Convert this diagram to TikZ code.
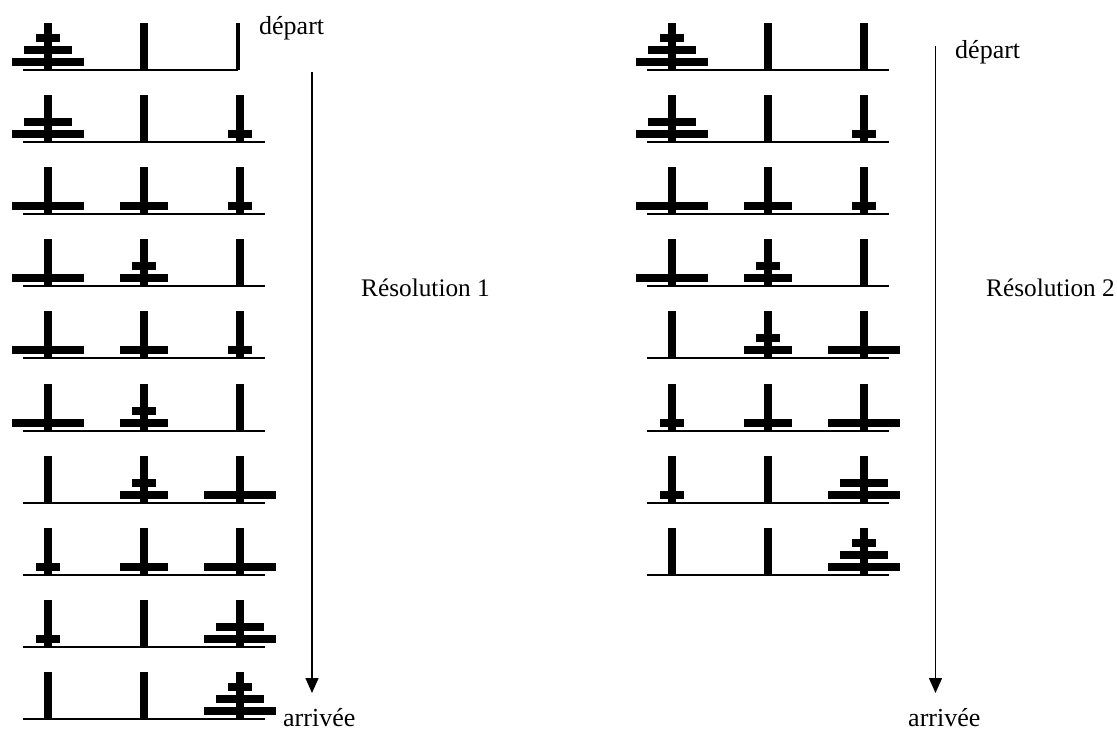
\documentclass[tikz,border=0pt]{standalone}
\usepackage{fontspec}
\setmainfont{Liberation Serif}
\usetikzlibrary{arrows.meta}

\tikzset{
  groundline/.style={line width=2pt},
  pegbar/.style={fill=black},
  diskbar/.style={fill=black},
  flow/.style={line width=1.5pt, -{Triangle[width=13pt,length=15pt]}},
  tag/.style={inner sep=0pt, anchor=base west, font=\fontsize{26}{30}\selectfont},
  title/.style={tag, font=\fontsize{25.3}{30}\selectfont},
}

% disks on one peg: list of size/level (size 1..3, level 1 = bottom)
\newcommand\hanoitower[3]{%
  \foreach \s/\l in {#3}{%
    \fill[diskbar] ({#1-12*\s},{#2-4-12*(\l-1)}) rectangle ({#1+12*\s},{#2-12-12*(\l-1)});}}

% one state of the puzzle: #1 x of the first peg, #2 y of the ground, #3-#5 disks on each peg
\newcommand\hanoirow[5]{%
  \draw[groundline] ({#1-25},#2) -- ({#1+217},#2);
  \foreach \k in {0,1,2}{\fill[pegbar] ({#1+96*\k-4},#2) rectangle ({#1+96*\k+4},{#2-47});}
  \def\tmpa{#3}\ifx\tmpa\empty\else\hanoitower{#1}{#2}{#3}\fi
  \def\tmpb{#4}\ifx\tmpb\empty\else\hanoitower{#1+96}{#2}{#4}\fi
  \def\tmpc{#5}\ifx\tmpc\empty\else\hanoitower{#1+192}{#2}{#5}\fi
}

\begin{document}
\begin{tikzpicture}[x=1pt,y=-1pt]
\useasboundingbox (0,0) rectangle (1117,731);

% ---- first solution ----
% starting state: the ground stops at the third peg, drawn thin
\draw[groundline] (23,70) -- (238,70);
\fill[pegbar] (44,70) rectangle (52,23);
\fill[pegbar] (140,70) rectangle (148,23);
\fill[pegbar] (236,70) rectangle (240,23);
\hanoitower{48}{70}{3/1,2/2,1/3}
\hanoirow{48}{142.1}{3/1,2/2}{}{1/1}
\hanoirow{48}{214.2}{3/1}{2/1}{1/1}
\hanoirow{48}{286.3}{3/1}{2/1,1/2}{}
\hanoirow{48}{358.4}{3/1}{2/1}{1/1}
\hanoirow{48}{430.5}{3/1}{2/1,1/2}{}
\hanoirow{48}{502.6}{}{2/1,1/2}{3/1}
\hanoirow{48}{574.7}{1/1}{2/1}{3/1}
\hanoirow{48}{646.8}{1/1}{}{3/1,2/2}
\hanoirow{48}{718.9}{}{}{3/1,2/2,1/3}

\coordinate (s1) at (312,72);
\coordinate (e1) at (312,693);
\draw[flow] (s1) -- (e1);

\node[tag] (dep1) at (259,34) {départ};
\node[title] (res1) at (361,296.5) {Résolution 1};
\node[tag] (arr1) at (283,726) {arrivée};

% ---- second solution ----
\hanoirow{672}{70}{3/1,2/2,1/3}{}{}
\hanoirow{672}{142.1}{3/1,2/2}{}{1/1}
\hanoirow{672}{214.2}{3/1}{2/1}{1/1}
\hanoirow{672}{286.3}{3/1}{2/1,1/2}{}
\hanoirow{672}{358.4}{}{2/1,1/2}{3/1}
\hanoirow{672}{430.5}{1/1}{2/1}{3/1}
\hanoirow{672}{502.6}{1/1}{}{3/1,2/2}
\hanoirow{672}{574.7}{}{}{3/1,2/2,1/3}

\coordinate (s2) at (935.5,46);
\coordinate (m2) at (935.5,96);
\coordinate (e2) at (935.5,693);
\draw[line width=1pt] (s2) -- (m2);
\draw[flow] (m2) -- (e2);

\node[tag] (dep2) at (955,58) {départ};
\node[title] (res2) at (986,296.5) {Résolution 2};
\node[tag] (arr2) at (908,726) {arrivée};
\end{tikzpicture}
\end{document}
